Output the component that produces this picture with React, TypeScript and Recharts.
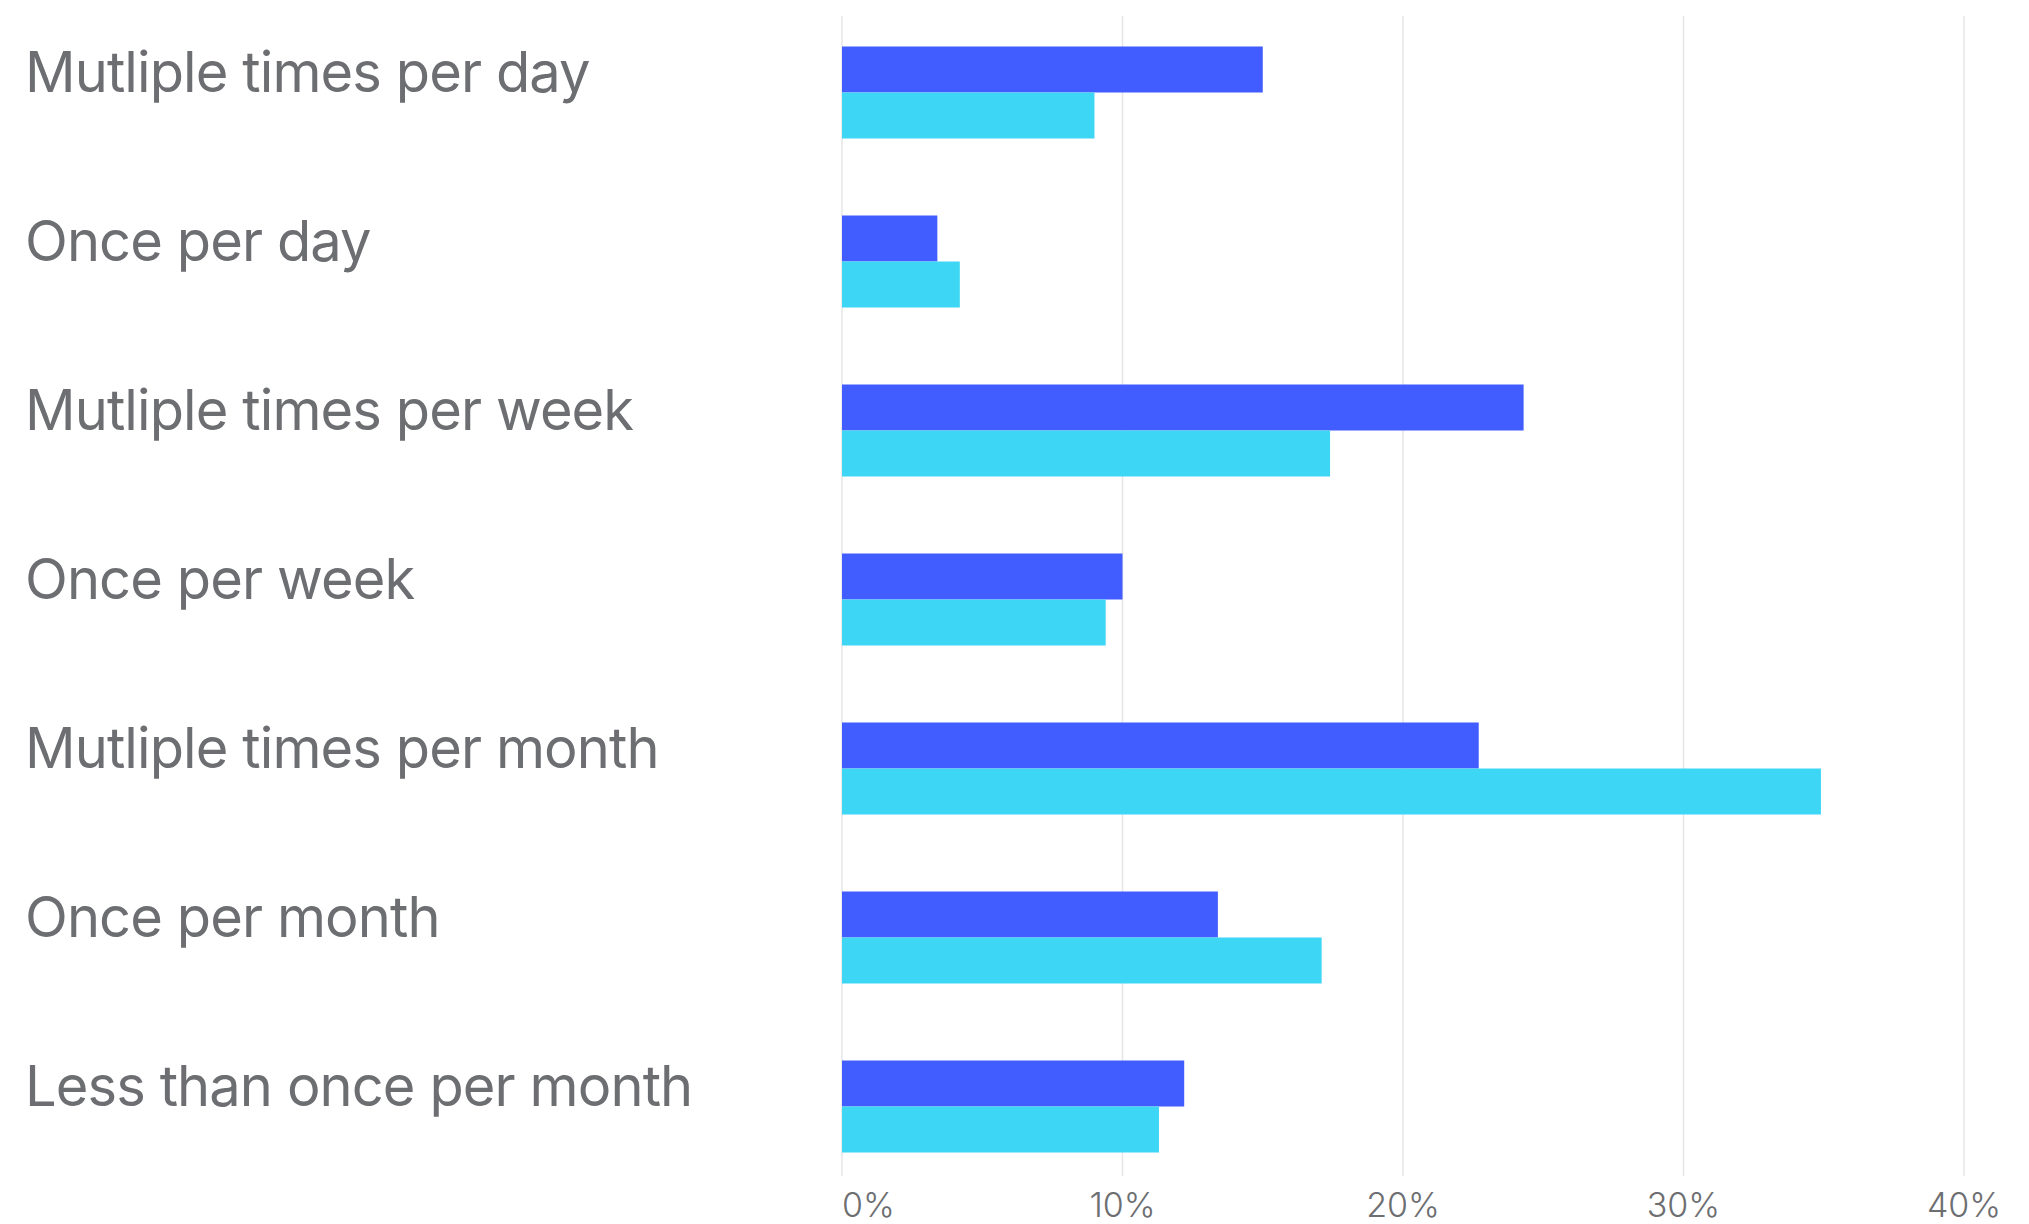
import { BarChart, Bar, XAxis, YAxis, CartesianGrid } from "recharts";

const categories = [
  "Mutliple times per day",
  "Once per day",
  "Mutliple times per week",
  "Once per week",
  "Mutliple times per month",
  "Once per month",
  "Less than once per month",
];
const seriesA = [15.0, 3.4, 24.3, 10.0, 22.7, 13.4, 12.2];
const seriesB = [9.0, 4.2, 17.4, 9.4, 34.9, 17.1, 11.3];
const xTicks = [0, 10, 20, 30, 40];

const data = categories.map((name, i) => ({ name, a: seriesA[i], b: seriesB[i] }));

const FONT = "Inter, 'Noto Sans', sans-serif";
const GRAY = "#6d6e71";

function CategoryTick(props: any) {
  const { y, payload } = props;
  return (
    <text
      x={25}
      y={y}
      textAnchor="start"
      fontFamily={FONT}
      fontSize={56}
      letterSpacing={-0.9}
      fill={GRAY}
    >
      {payload.value}
    </text>
  );
}

function PercentTick(props: any) {
  const { x, y, payload, index } = props;
  return (
    <text
      x={x}
      y={y + 26}
      textAnchor={index === 0 ? "start" : "middle"}
      fontFamily={FONT}
      fontWeight={300}
      fontSize={34}
      fill={GRAY}
    >
      {`${payload.value}%`}
    </text>
  );
}

export default function App() {
  return (
    <div style={{ position: "absolute", left: 0, top: 0, background: "#fff" }}>
      <BarChart
        width={2029}
        height={1224}
        data={data}
        layout="vertical"
        margin={{ top: 7.5, right: 65, bottom: 0, left: 0 }}
        barGap={0}
        barSize={46}
      >
        <CartesianGrid horizontal={false} stroke="#e6e6e6" strokeWidth={1.5} y={16} height={1160} />
        <XAxis
          type="number"
          domain={[0, 40]}
          ticks={xTicks}
          axisLine={false}
          tickLine={false}
          tickSize={0}
          tickMargin={0}
          height={33.5}
          tick={<PercentTick />}
        />
        <YAxis
          type="category"
          dataKey="name"
          width={842}
          axisLine={false}
          tickLine={false}
          tick={<CategoryTick />}
        />
        <Bar dataKey="a" fill="#425dff" isAnimationActive={false} />
        <Bar dataKey="b" fill="#3ed6f5" isAnimationActive={false} />
      </BarChart>
    </div>
  );
}
